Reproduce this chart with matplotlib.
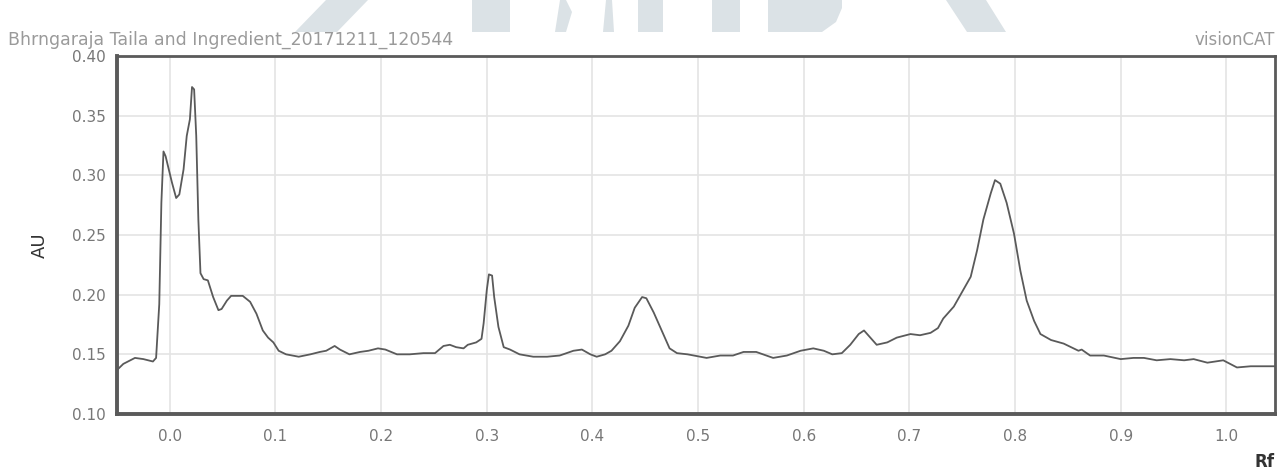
import matplotlib
matplotlib.use("Agg")
import matplotlib.pyplot as plt
from matplotlib.patches import Polygon
import numpy as np

plt.rcParams["font.family"] = ["DejaVu Sans"]

# Densitometric scan: Rf position vs absorbance (AU)
rf = [
    -0.051, -0.044, -0.033, -0.025, -0.016, -0.013, -0.010, -0.008, -0.006, -0.004,
    0.002, 0.006, 0.009, 0.013, 0.016, 0.019, 0.021, 0.023, 0.025, 0.027,
    0.029, 0.032, 0.036, 0.041, 0.046, 0.049, 0.054, 0.058, 0.066, 0.069,
    0.076, 0.082, 0.088, 0.093, 0.098, 0.103, 0.110, 0.122, 0.133, 0.142,
    0.148, 0.156, 0.161, 0.170, 0.180, 0.188, 0.197, 0.204, 0.215, 0.227,
    0.240, 0.251, 0.259, 0.265, 0.271, 0.278, 0.282, 0.290, 0.295, 0.297,
    0.300, 0.302, 0.305, 0.307, 0.311, 0.316, 0.322, 0.331, 0.344, 0.357,
    0.369, 0.382, 0.390, 0.398, 0.404, 0.412, 0.418, 0.426, 0.434, 0.440,
    0.447, 0.451, 0.458, 0.465, 0.473, 0.480, 0.490, 0.508, 0.521, 0.533,
    0.543, 0.555, 0.571, 0.584, 0.597, 0.609, 0.619, 0.627, 0.636, 0.644,
    0.652, 0.657, 0.663, 0.669, 0.679, 0.688, 0.701, 0.710, 0.720, 0.727,
    0.732, 0.742, 0.751, 0.758, 0.764, 0.770, 0.777, 0.781, 0.786, 0.792,
    0.799, 0.805, 0.811, 0.818, 0.824, 0.834, 0.846, 0.860, 0.863, 0.871,
    0.884, 0.900, 0.912, 0.922, 0.934, 0.947, 0.960, 0.969, 0.982, 0.997,
    1.010, 1.023, 1.035, 1.046,
]
au = [
    0.136, 0.142, 0.147, 0.146, 0.144, 0.147, 0.192, 0.277, 0.320, 0.316,
    0.294, 0.281, 0.284, 0.305, 0.333, 0.347, 0.374, 0.372, 0.333, 0.263,
    0.218, 0.213, 0.212, 0.198, 0.187, 0.188, 0.195, 0.199, 0.199, 0.199,
    0.194, 0.184, 0.170, 0.164, 0.160, 0.153, 0.150, 0.148, 0.150, 0.152,
    0.153, 0.157, 0.154, 0.150, 0.152, 0.153, 0.155, 0.154, 0.150, 0.150,
    0.151, 0.151, 0.157, 0.158, 0.156, 0.155, 0.158, 0.160, 0.163, 0.176,
    0.204, 0.217, 0.216, 0.198, 0.173, 0.156, 0.154, 0.150, 0.148, 0.148,
    0.149, 0.153, 0.154, 0.150, 0.148, 0.150, 0.153, 0.161, 0.174, 0.189,
    0.198, 0.197, 0.185, 0.171, 0.155, 0.151, 0.150, 0.147, 0.149, 0.149,
    0.152, 0.152, 0.147, 0.149, 0.153, 0.155, 0.153, 0.150, 0.151, 0.158,
    0.167, 0.170, 0.164, 0.158, 0.160, 0.164, 0.167, 0.166, 0.168, 0.172,
    0.180, 0.190, 0.204, 0.215, 0.237, 0.263, 0.285, 0.296, 0.293, 0.277,
    0.251, 0.220, 0.195, 0.178, 0.167, 0.162, 0.159, 0.153, 0.154, 0.149,
    0.149, 0.146, 0.147, 0.147, 0.145, 0.146, 0.145, 0.146, 0.143, 0.145,
    0.139, 0.140, 0.140, 0.140,
]

x_ticks = [0.0, 0.1, 0.2, 0.3, 0.4, 0.5, 0.6, 0.7, 0.8, 0.9, 1.0]
y_ticks = [0.10, 0.15, 0.20, 0.25, 0.30, 0.35, 0.40]

title_text = "Bhrngaraja Taila and Ingredient_20171211_120544"
brand_text = "visionCAT"

W, H = 1279, 476
fig = plt.figure(figsize=(W / 100, H / 100), dpi=100)
fig.patch.set_facecolor("white")

# faint background logo fragments along the top edge (pixel coords, y down)
logo_color = "#dbe2e6"
logo_shapes = [
    [(295, 32), (337, 32), (368, 0), (326, 0)],
    [(472, 32), (510, 32), (510, 0), (472, 0)],
    [(555, 32), (566, 32), (572, 12), (566, 0), (560, 0)],
    [(603, 32), (614, 32), (612, 0), (606, 0)],
    [(638, 32), (663, 32), (663, 0), (638, 0)],
    [(712, 32), (740, 32), (740, 0), (712, 0)],
    [(768, 32), (793, 32), (793, 0), (768, 0)],
    [(793, 32), (822, 32), (836, 22), (842, 8), (842, 0), (793, 0)],
    [(967, 32), (1006, 32), (986, 0), (946, 0)],
]
for pts in logo_shapes:
    fig.patches.append(Polygon([(px / W, 1 - py / H) for px, py in pts],
                               closed=True, transform=fig.transFigure,
                               facecolor=logo_color, edgecolor="none", zorder=0))

ax = fig.add_axes([117 / W, 1 - 414 / H, (1275 - 117) / W, (414 - 56) / H])
ax.plot(rf, au, color="#5a5a5a", lw=1.3, solid_joinstyle="round", zorder=3)

ax.set_xlim(-0.05, 1.046)
ax.set_ylim(0.10, 0.40)
ax.set_xticks(x_ticks)
ax.set_xticklabels([f"{v:.1f}" for v in x_ticks])
ax.set_yticks(y_ticks)
ax.set_yticklabels([f"{v:.2f}" for v in y_ticks])
ax.grid(True, color="#e4e4e4", lw=1.2)
ax.set_axisbelow(True)
ax.tick_params(length=0, labelsize=11, labelcolor="#777777")
ax.tick_params(axis="x", pad=11)
ax.tick_params(axis="y", pad=8)

for side, lw in (("left", 2.8), ("bottom", 2.8), ("top", 2.0), ("right", 2.0)):
    ax.spines[side].set_color("#5a5a5a")
    ax.spines[side].set_linewidth(lw)

fig.text(8 / W, 1 - 40 / H, title_text, ha="left", va="center",
         fontsize=12.5, color="#9a9a9a")
fig.text(1275 / W, 1 - 40 / H, brand_text, ha="right", va="center",
         fontsize=12, color="#9a9a9a")
fig.text(40 / W, 1 - 245 / H, "AU", rotation=90, ha="center", va="center",
         fontsize=13, color="#333333")
fig.text(1265 / W, 1 - 462 / H, "Rf", ha="center", va="center",
         fontsize=12, color="#333333", fontweight="bold")

fig.savefig("out.png", dpi=100, facecolor="white")
